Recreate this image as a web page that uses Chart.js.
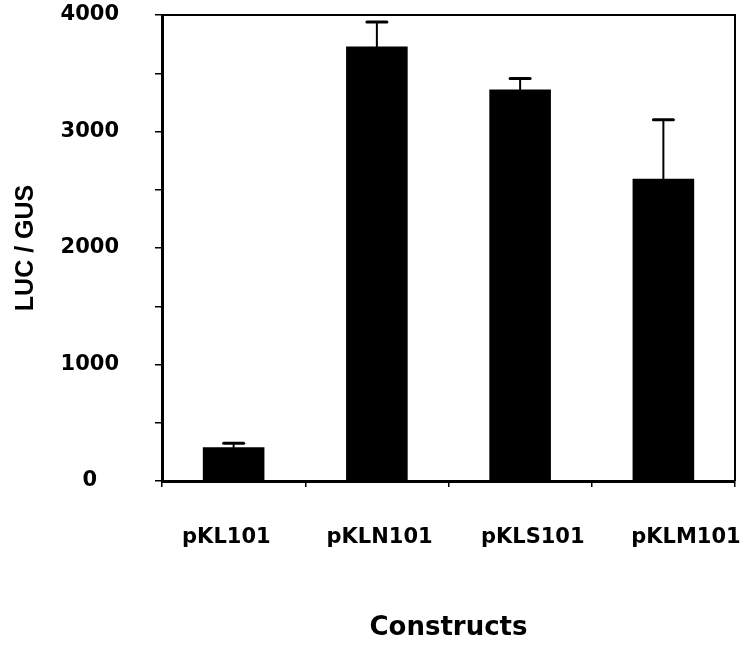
<!DOCTYPE html>
<html lang="en">

<head>
    <meta charset="UTF-8">
    <title>LUC / GUS by construct</title>
    <script src="https://cdn.jsdelivr.net/npm/chart.js"></script>
    <style>
        html, body {
            margin: 0;
            padding: 0;
            background: #fff;
        }

        .wrap {
            width: 746px;
            height: 647px;
        }
    </style>
</head>

<body>
    <div class="wrap">
        <canvas id="lucChart"></canvas>
    </div>

    <script>
        // Values
        const constructs = ['pKL101', 'pKLN101', 'pKLS101', 'pKLM101'];
        const lucGus = [290, 3730, 3360, 2595];
        const lucGusErr = [35, 210, 95, 505];

        const FONT = "'DejaVu Sans', sans-serif";

        // Upper error whiskers, placed with the chart's own y scale
        const errorBars = {
            id: 'errorBars',
            afterDatasetsDraw(chart) {
                const ctx = chart.ctx;
                const yScale = chart.scales.y;
                const bars = chart.getDatasetMeta(0).data;
                ctx.save();
                ctx.strokeStyle = '#000';
                ctx.lineCap = 'round';
                bars.forEach((bar, i) => {
                    const yTop = yScale.getPixelForValue(lucGus[i] + lucGusErr[i]);
                    ctx.lineWidth = 2;
                    ctx.beginPath();
                    ctx.moveTo(bar.x, bar.y);
                    ctx.lineTo(bar.x, yTop);
                    ctx.stroke();
                    ctx.lineWidth = 3;
                    ctx.beginPath();
                    ctx.moveTo(bar.x - 10, yTop);
                    ctx.lineTo(bar.x + 10, yTop);
                    ctx.stroke();
                });
                ctx.restore();
            }
        };

        // Top and right edges of the plot frame
        const frame = {
            id: 'frame',
            afterDraw(chart) {
                const { left, right, top, bottom } = chart.chartArea;
                const ctx = chart.ctx;
                ctx.save();
                ctx.strokeStyle = '#000';
                ctx.lineWidth = 2;
                ctx.beginPath();
                ctx.moveTo(left, top);
                ctx.lineTo(right, top);
                ctx.lineTo(right, bottom);
                ctx.stroke();
                ctx.restore();
            }
        };

        const ctx = document.getElementById('lucChart').getContext('2d');
        new Chart(ctx, {
            type: 'bar',
            data: {
                labels: constructs,
                datasets: [{
                    data: lucGus,
                    xAxisID: 'x',
                    backgroundColor: '#000',
                    borderWidth: 0,
                    categoryPercentage: 1,
                    barPercentage: 0.43,
                }],
            },
            plugins: [errorBars, frame],
            options: {
                responsive: true,
                maintainAspectRatio: false,
                animation: false,
                layout: {
                    padding: { top: 15, right: 11, left: 0, bottom: 0 },
                },
                plugins: {
                    legend: { display: false },
                    tooltip: { enabled: false },
                },
                scales: {
                    // bar axis: boundary tick marks only
                    x: {
                        weight: 0,
                        afterFit(scale) {
                            scale.height = 8;
                            scale.paddingLeft = 0;
                            scale.paddingRight = 0;
                        },
                        grid: {
                            drawOnChartArea: false,
                            offset: true,
                            tickLength: 6,
                            color: '#000',
                            lineWidth: 1.5,
                        },
                        border: { color: '#000', width: 3 },
                        ticks: { display: false },
                    },
                    // label axis: in the scan the names sit a little wider apart than the bars
                    xNames: {
                        type: 'linear',
                        position: 'bottom',
                        weight: 1,
                        offset: false,
                        bounds: 'data',
                        min: -0.42,
                        max: 3.32,
                        afterBuildTicks(scale) {
                            scale.ticks = constructs.map((_, i) => ({ value: i }));
                        },
                        afterFit(scale) {
                            scale.height = 158;
                            scale.paddingLeft = 0;
                            scale.paddingRight = 0;
                        },
                        grid: { display: false, drawTicks: false, offset: false },
                        border: { display: false },
                        ticks: {
                            maxRotation: 0,
                            autoSkip: false,
                            color: '#000',
                            padding: 36,
                            font: { family: FONT, size: 21, weight: 'bold' },
                            callback: (v) => constructs[v] ?? '',
                        },
                        title: {
                            display: true,
                            text: 'Constructs',
                            color: '#000',
                            font: { family: FONT, size: 26, weight: 'bold' },
                            padding: { top: 0, bottom: 3 },
                        },
                    },
                    y: {
                        min: 0,
                        max: 4000,
                        afterFit(scale) {
                            scale.width = 162;
                            scale.paddingTop = 0;
                            scale.paddingBottom = 0;
                        },
                        grid: {
                            drawOnChartArea: false,
                            tickLength: 7,
                            color: '#000',
                            lineWidth: 1.5,
                        },
                        border: { color: '#000', width: 3 },
                        ticks: {
                            stepSize: 500,
                            color: '#000',
                            padding: 36,
                            crossAlign: 'center',
                            font: { family: FONT, size: 21, weight: 'bold' },
                            callback: (v) => (v % 1000 === 0 ? v : ''),
                        },
                        title: {
                            display: true,
                            text: 'LUC / GUS',
                            color: '#000',
                            font: { family: "'Liberation Sans', Arial, sans-serif", size: 25, weight: 'bold' },
                            padding: { top: 11, bottom: 0 },
                        },
                    },
                },
            },
        });
    </script>
</body>

</html>
